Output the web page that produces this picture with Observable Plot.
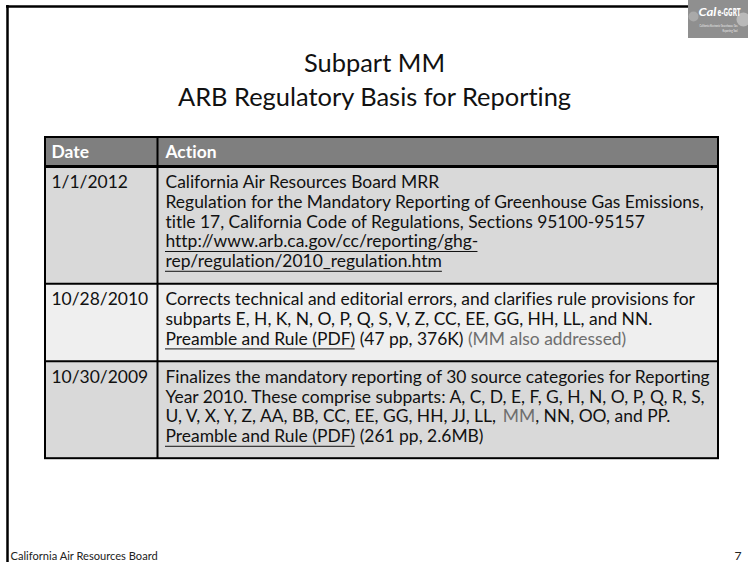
<!DOCTYPE html>
<html><head><meta charset="utf-8">
<script src="https://cdn.jsdelivr.net/npm/d3@7"></script>
<script src="https://cdn.jsdelivr.net/npm/@observablehq/plot@0.6"></script>
<style>html,body{margin:0;padding:0;background:#fff;} svg{display:block} svg text{font-variant-ligatures:none;font-feature-settings:"liga" 0;}</style>
</head><body><div id="chart"></div>
<script>
// ---------- content ----------
const titleLines = ["Subpart MM", "ARB Regulatory Basis for Reporting"];
const headers = ["Date", "Action"];
const dates = ["1/1/2012", "10/28/2010", "10/30/2009"];
// [..] = hyperlink (underlined), {..} = muted grey text
const actions = [
  ["California Air Resources Board MRR",
   "Regulation for the Mandatory Reporting of Greenhouse Gas Emissions,",
   "title 17, California Code of Regulations, Sections 95100-95157",
   "[http://www.arb.ca.gov/cc/reporting/ghg-]",
   "[rep/regulation/2010_regulation.htm]"],
  ["Corrects technical and editorial errors, and clarifies rule provisions for",
   "subparts E, H, K, N, O, P, Q, S, V, Z, CC, EE, GG, HH, LL, and NN.",
   "[Preamble and Rule (PDF)] (47 pp, 376K) {(MM also addressed)}"],
  ["Finalizes the mandatory reporting of 30 source categories for Reporting",
   "Year 2010. These comprise subparts: A, C, D, E, F, G, H, N, O, P, Q, R, S,",
   "U, V, X, Y, Z, AA, BB, CC, EE, GG, HH, JJ, LL, {MM}, NN, OO, and PP.",
   "[Preamble and Rule (PDF)] (261 pp, 2.6MB)"]
];
const footerLeft = "California Air Resources Board";
const pageNumber = "7";
const logoWords = ["Cal", "e-GGRT"];
const logoSmall = ["California Electronic Greenhouse Gas", "Reporting Tool"];

// ---------- layout & style ----------
const W = 748, H = 562;
const FONT = "Lato, 'Open Sans', sans-serif";
const rowFills = ["#d9d9d9", "#efefef", "#d9d9d9"];
const headFill = "#7f7f7f";
const mutedColor = "#6e6e6e";
const T = {left: 45, mid: 157, right: 718, top: 137, headBottom: 166};
const lineH = 19.8, padTop = 16, padBottom = 22;
const textX = {date: 51, action: 165};

const ctx = document.createElement("canvas").getContext("2d");
function measure(txt, size, weight = "normal", style = "normal") {
  ctx.font = `${style} ${weight} ${size}px Lato`;
  return ctx.measureText(txt).width;
}
function fit(txt, target, weight) { return 20 * target / measure(txt, 20, weight); }
const bodySize = fit(actions[0][1], 540);
const titleSize = fit(titleLines[1], 395);
const footSize = fit(footerLeft, 148);

// rows
const rows = [];
let yTop = T.headBottom;
actions.forEach((lines, i) => {
  const h = padTop + (lines.length - 1) * lineH + padBottom;
  rows.push({i, y1: yTop, y2: yTop + h, fill: rowFills[i], date: dates[i], lines});
  yTop += h;
});
const tableBottom = yTop;

// segments
const segs = [];
rows.forEach(r => {
  segs.push({text: r.date, x: textX.date, y: r.y1 + padTop, kind: "plain"});
  r.lines.forEach((line, j) => {
    const y = r.y1 + padTop + j * lineH;
    let x = textX.action;
    const re = /\[([^\]]+)\]|\{([^}]+)\}|([^\[\{]+)/g;
    let m;
    while ((m = re.exec(line))) {
      const text = m[1] || m[2] || m[3];
      const kind = m[1] ? "link" : m[2] ? "muted" : "plain";
      const w = measure(text, bodySize);
      segs.push({text, x, y, w, kind});
      x += w;
    }
  });
});

const plot = Plot.plot({
  width: W, height: H, margin: 0,
  x: {domain: [0, W], range: [0, W], axis: null},
  y: {domain: [0, H], range: [0, H], axis: null},
  style: {background: "#fff"},
  marks: [
    // slide frame
    Plot.ruleY([6], {x1: 6, x2: 688, stroke: "#000", strokeWidth: 2.5}),
    Plot.ruleX([7], {y1: 5, y2: H, stroke: "#000", strokeWidth: 2.5}),
    // logo
    Plot.rect([0], {x1: 688, x2: W, y1: 0, y2: 38, fill: "#8f8f8f"}),
    Plot.dot([0], {x: 693, y: 16, r: 5, fill: "#a9a9a9"}),
    Plot.dot([0], {x: 743, y: 19, r: 7, fill: "#b9b9b9"}),
    Plot.text([logoWords[0]], {x: 698, y: 12, text: d => d, textAnchor: "start", fontSize: 12, fontWeight: "bold", fontStyle: "italic", fill: "#fff", fontFamily: FONT}),
    Plot.text([logoWords[1]], {x: 717, y: 12, text: d => d, textAnchor: "start", fontSize: 11, fontWeight: "bold", fill: "#fff", fontFamily: "'DejaVu Sans Condensed', sans-serif"}),
    Plot.text(logoSmall, {x: 737, y: (d, i) => 25 + i * 5, text: d => d, textAnchor: "end", fontSize: 3.5, fill: "#eee", fontFamily: FONT}),
    // title
    Plot.text(titleLines, {x: W / 2, y: (d, i) => 63 + i * 34.5, text: d => d, fontSize: titleSize, fill: "#111", fontFamily: FONT}),
    // table backgrounds
    Plot.rect([0], {x1: T.left, x2: T.right, y1: T.top, y2: T.headBottom, fill: headFill}),
    Plot.rect(rows, {x1: T.left, x2: T.right, y1: "y1", y2: "y2", fill: "fill"}),
    // grid
    Plot.ruleY(rows.map(r => r.y2).slice(0, -1), {x1: T.left, x2: T.right, stroke: "#000", strokeWidth: 2}),
    Plot.ruleY([T.headBottom], {x1: T.left, x2: T.right, stroke: "#000", strokeWidth: 3}),
    Plot.ruleX([T.mid], {y1: T.top, y2: tableBottom, stroke: "#000", strokeWidth: 2}),
    Plot.rect([0], {x1: T.left, x2: T.right, y1: T.top, y2: tableBottom, fill: "none", stroke: "#000", strokeWidth: 2}),
    // header text
    Plot.text(headers, {x: (d, i) => i ? textX.action : textX.date, y: (T.top + T.headBottom) / 2, text: d => d, textAnchor: "start", fontSize: bodySize, fontWeight: "bold", fill: "#fff", fontFamily: FONT}),
    // body text
    Plot.text(segs.filter(s => s.kind !== "muted"), {x: "x", y: "y", text: "text", textAnchor: "start", fontSize: bodySize, fill: "#111", fontFamily: FONT}),
    Plot.text(segs.filter(s => s.kind === "muted"), {x: "x", y: "y", text: "text", textAnchor: "start", fontSize: bodySize, fill: mutedColor, fontFamily: FONT}),
    Plot.ruleY(segs.filter(s => s.kind === "link"), {y: d => d.y + bodySize * 0.55, x1: "x", x2: d => d.x + d.w, stroke: "#111", strokeWidth: 1}),
    // footer
    Plot.text([footerLeft], {x: 10, y: 556, text: d => d, textAnchor: "start", fontSize: footSize, fill: "#222", fontFamily: FONT}),
    Plot.text([pageNumber], {x: 741, y: 556, text: d => d, textAnchor: "end", fontSize: footSize * 1.1, fill: "#222", fontFamily: FONT})
  ]
});
document.getElementById("chart").appendChild(plot);
// condense logo lettering horizontally so it fits inside the badge
const fitLen = {"Cal": 18, "e-GGRT": 23, "California Electronic Greenhouse Gas": 38, "Reporting Tool": 15};
d3.select(plot).selectAll("text").each(function () {
  const t = this.textContent;
  if (!fitLen[t]) return;
  const w = this.getComputedTextLength();
  if (!w) return;
  const sx = fitLen[t] / w;
  const tr = this.getAttribute("transform") || "";
  const x = +(this.getAttribute("x") || 0);
  if (x) {
    this.setAttribute("transform", `${tr} translate(${x},0) scale(${sx},1) translate(${-x},0)`);
  } else {
    this.setAttribute("transform", `${tr} scale(${sx},1)`);
  }
});
</script>
</body></html>
